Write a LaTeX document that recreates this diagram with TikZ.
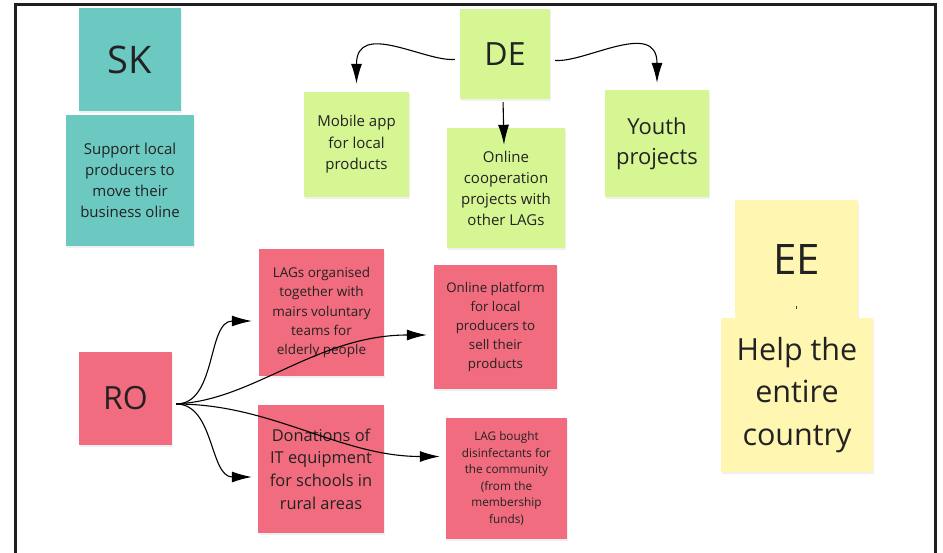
\documentclass[tikz,border=0pt]{standalone}
\usepackage{fontspec}
\setmainfont{Open Sans}
\usepackage{tikz}
\usetikzlibrary{positioning, arrows.meta, shadows}
\usepackage{xcolor}

\definecolor{skteal}{HTML}{6CC9C1}
\definecolor{delime}{HTML}{D6F693}
\definecolor{rorose}{HTML}{F16C7E}
\definecolor{eelemon}{HTML}{FFF7B1}
\definecolor{ink}{HTML}{222222}

\begin{document}
\begin{tikzpicture}[x=1pt, y=-1pt]

        % Styles
        \tikzstyle{note} = [inner sep=0pt, align=center, text=ink, drop shadow={shadow xshift=1pt, shadow yshift=-2pt, opacity=0.12}]
        \tikzstyle{sknote} = [note, fill=skteal]
        \tikzstyle{denote} = [note, fill=delime]
        \tikzstyle{ronote} = [note, fill=rorose]
        \tikzstyle{eenote} = [note, fill=eelemon]
        \tikzstyle{link} = [draw=black, line width=1.1pt, -{Latex[length=20pt, width=11pt]}]

        \useasboundingbox (0,0) rectangle (943,552);

        % Frame
        \draw[line width=3pt, black!88] (15,560) -- (15,4.5) -- (935.5,4.5) -- (935.5,560);

        % --- SK ---
        \node[sknote, minimum width=102pt, minimum height=103pt, font={\fontsize{38}{40}\selectfont}] (sk) at (130,59.5) {SK};
        \node[sknote, minimum width=128pt, minimum height=131pt, font={\fontsize{15}{21}\selectfont}] (skhelp) at (130,180)
            {Support local\\producers to\\move their\\business oline};

        % --- DE ---
        \node[denote, minimum width=90pt, minimum height=90pt, font={\fontsize{32}{34}\selectfont}] (de) at (505,54) {DE};
        \node[denote, minimum width=105pt, minimum height=105pt, font={\fontsize{15}{21.5}\selectfont}] (mobile) at (356.5,144.5)
            {Mobile app\\for local\\products};
        \node[denote, minimum width=118pt, minimum height=120pt, font={\fontsize{15}{21}\selectfont}] (coop) at (506,188)
            {Online\\cooperation\\projects with\\other LAGs};
        \node[denote, minimum width=104pt, minimum height=107pt, font={\fontsize{22}{30}\selectfont}] (youth) at (657,143.5)
            {Youth\\projects};

        % --- RO ---
        \node[ronote, minimum width=93pt, minimum height=93pt, font={\fontsize{32}{34}\selectfont}] (ro) at (125.5,398.5) {RO};
        \node[ronote, minimum width=125pt, minimum height=127pt, font={\fontsize{13.5}{19.3}\selectfont}] (lags) at (321.5,312.5)
            {LAGs organised\\together with\\mairs voluntary\\teams for\\elderly people};
        \node[ronote, minimum width=123pt, minimum height=124pt, font={\fontsize{13.3}{18.8}\selectfont}] (platform) at (495.5,327)
            {Online platform\\for local\\producers to\\sell their\\products};
        \node[ronote, minimum width=126pt, minimum height=128pt, font={\fontsize{16.4}{22.7}\selectfont}] (donations) at (321,469)
            {Donations of\\IT equipment\\for schools in\\rural areas};
        \node[ronote, minimum width=121pt, minimum height=121pt, font={\fontsize{11.8}{16.5}\selectfont}] (bought) at (506.5,478.5)
            {LAG bought\\disinfectants for\\the community\\(from the\\membership\\funds)};

        % --- EE ---
        \node[eenote, minimum width=123pt, minimum height=120pt, font={\fontsize{42}{44}\selectfont}] (ee) at (796.5,260) {EE};
        \draw[line width=0.8pt, black!75] ([yshift=14pt]ee.south) -- ++(0,3);
        \node[eenote, minimum width=152pt, minimum height=154pt, font={\fontsize{30.5}{42.5}\selectfont}] (helpee) at (797,395)
            {Help the\\entire\\country};

        % --- DE ARROWS ---
        \draw[link, shorten <=5pt] ([yshift=-5pt]de.west) .. controls +(-35,3) and +(0,-64) .. ([yshift=8pt]mobile.north);
        \draw[link, shorten <=5pt] ([yshift=-6pt]de.east) .. controls +(35,3) and +(0,-64) .. ([yshift=7pt]youth.north);
        \draw[link, shorten <=3pt] ([xshift=-2pt]de.south) -- ([xshift=-2pt, yshift=-17pt]coop.north);

        % --- RO ARROWS ---
        \draw[link, shorten <=4pt] ([yshift=-5.5pt]ro.east) to[out=0, in=180] ([xshift=-7pt, yshift=-8.5pt]lags.west);
        \draw[link, shorten <=4pt] ([yshift=-5.5pt]ro.east) .. controls +(80,-3) and +(-110,0) .. ([xshift=-7pt, yshift=-8pt]platform.west);
        \draw[link, shorten <=4pt] ([yshift=-5.5pt]ro.east) .. controls +(100,0) and +(-100,0) .. ([xshift=-6pt, yshift=22pt]bought.west);
        \draw[link, shorten <=4pt] ([yshift=-5.5pt]ro.east) to[out=0, in=180] ([xshift=-6pt, yshift=-8pt]donations.west);

    \end{tikzpicture}
\end{document}
